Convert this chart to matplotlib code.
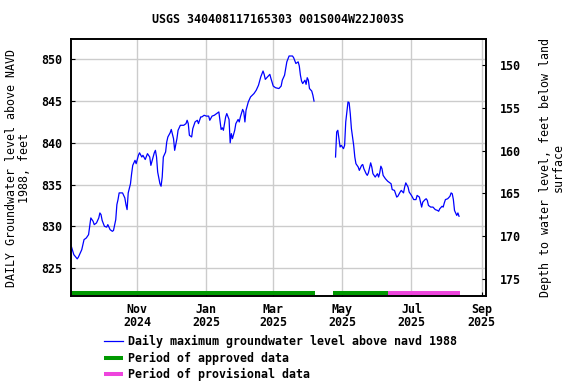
import datetime as dt
import numpy as np
import matplotlib
matplotlib.use("Agg")
import matplotlib.pyplot as plt
import matplotlib.dates as mdates

plt.rcParams['font.family'] = ['DejaVu Sans Mono']
plt.rcParams['font.weight'] = 'bold'
plt.rcParams['font.size'] = 8.4

base = dt.datetime(2024, 9, 1)

# days after 2024-09-01, daily max level (ft above NAVD 1988)
days_a = [3, 5, 8, 9, 12, 14, 16, 18, 20, 22, 23, 25, 27, 28, 29, 30, 32, 34, 35, 37,
          39, 40, 42, 43, 44, 45, 48, 50, 51, 52, 53, 55, 56, 57, 59, 60, 62, 63, 65, 66,
          68, 70, 72, 73, 76, 77, 78, 79, 81, 82, 83, 84, 86, 87, 88, 90, 91, 93, 94, 96,
          97, 99, 102, 104, 105, 106, 107, 109, 110, 112, 114, 115, 117, 118, 120, 122, 124, 125, 127, 129,
          131, 133, 135, 136, 137, 139, 140, 142, 143, 144, 145, 147, 148, 150, 151, 152, 154, 155, 156, 157,
          159, 161, 164, 166, 168, 170, 172, 173, 174, 176, 178, 179, 181, 183, 186, 188, 189, 191, 193, 195,
          198, 199, 201, 203, 204, 205, 206, 207, 209, 210, 211, 212, 213, 215, 216, 217]
level_a = [827.5, 826.6, 826.1, 826.3, 827.2, 828.4, 828.6, 829.0, 831.0, 830.6, 830.2, 830.4, 831.0, 831.6, 831.4, 830.7, 830.0, 829.9, 830.2, 829.6,
           829.4, 829.5, 830.8, 832.6, 833.2, 834.0, 834.0, 833.4, 832.6, 832.0, 834.0, 835.1, 836.3, 837.3, 837.9, 837.5, 838.5, 838.8, 838.3, 838.5,
           838.0, 838.7, 838.3, 837.3, 838.8, 839.1, 838.3, 836.5, 835.1, 834.8, 835.9, 838.3, 838.9, 840.1, 840.7, 841.2, 841.6, 840.5, 839.1, 840.5,
           841.5, 842.1, 842.1, 842.3, 842.7, 842.3, 840.9, 840.7, 841.7, 842.5, 842.7, 842.3, 843.1, 843.1, 843.3, 843.2, 843.2, 842.7, 843.2, 843.3,
           843.5, 843.7, 841.6, 841.8, 841.5, 843.1, 843.5, 842.8, 840.0, 841.1, 840.5, 841.5, 842.3, 842.8, 842.5, 843.1, 844.0, 843.7, 842.5, 843.9,
           844.9, 845.5, 845.9, 846.3, 846.9, 847.9, 848.6, 848.2, 847.6, 847.9, 848.2, 847.7, 846.8, 846.6, 846.5, 846.8, 847.5, 848.1, 849.7, 850.4,
           850.4, 850.2, 849.5, 849.7, 849.2, 848.1, 847.4, 847.1, 847.5, 847.0, 847.8, 847.5, 846.5, 846.2, 845.7, 845.0]

days_b = [236, 237, 238, 239, 240, 241, 242, 243, 244, 245, 246, 247, 248, 249, 250, 252, 253, 254, 256, 257,
          259, 260, 261, 263, 264, 265, 267, 268, 269, 271, 273, 274, 275, 276, 277, 278, 280, 282, 284, 285,
          286, 288, 290, 291, 293, 294, 296, 297, 298, 300, 301, 303, 305, 307, 308, 310, 311, 312, 313, 315,
          316, 317, 318, 320, 322, 324, 326, 327, 328, 330, 331, 332, 333, 335, 337, 338, 339, 340, 341, 343,
          344, 345]
level_b = [838.3, 841.3, 841.5, 840.5, 839.5, 839.7, 839.5, 839.3, 839.7, 842.5, 843.7, 844.9, 844.8, 843.5, 841.7, 839.7, 838.3, 837.5, 837.1, 836.7,
           837.3, 837.4, 836.9, 836.3, 836.1, 836.4, 837.6, 837.1, 836.3, 835.9, 836.3, 835.9, 836.4, 837.2, 836.9, 836.1, 835.7, 835.4, 835.2, 835.1,
           834.4, 834.3, 833.5, 833.6, 834.1, 834.3, 834.0, 834.7, 835.2, 834.7, 834.1, 833.7, 833.2, 833.2, 833.7, 833.5, 832.9, 832.3, 832.9, 833.2,
           833.3, 833.1, 832.5, 832.3, 832.3, 832.0, 831.9, 831.8, 832.1, 832.4, 832.3, 832.8, 833.2, 833.3, 833.6, 834.0, 833.9, 833.2, 831.9, 831.3,
           831.6, 831.2]

# data-quality periods (start day, end day)
approved = [(2, 218), (234, 282)]
provisional = [(282, 346)]

title = "USGS 340408117165303 001S004W22J003S"
month_ticks = [dt.datetime(2024, 11, 1), dt.datetime(2025, 1, 1), dt.datetime(2025, 3, 1),
               dt.datetime(2025, 5, 1), dt.datetime(2025, 7, 1), dt.datetime(2025, 9, 1)]
month_labels = ["Nov\n2024", "Jan\n2025", "Mar\n2025", "May\n2025", "Jul\n2025", "Sep\n2025"]


def to_dates(days):
    return [base + dt.timedelta(days=d) for d in days]


fig = plt.figure(figsize=(5.76, 3.84), dpi=100)
ax = fig.add_axes([71 / 576, 88 / 384, 415 / 576, 256.7 / 384])

ax.plot(to_dates(days_a), level_a, color='#0000ff', lw=0.9,
        label='Daily maximum groundwater level above navd 1988')
ax.plot(to_dates(days_b), level_b, color='#0000ff', lw=0.9)

bar_y = 822.05
for i, (s, e) in enumerate(approved):
    ax.plot(to_dates([s, e]), [bar_y, bar_y], color='#009900', lw=2.9,
            solid_capstyle='butt', label='Period of approved data' if i == 0 else None)
for i, (s, e) in enumerate(provisional):
    ax.plot(to_dates([s, e]), [bar_y, bar_y], color='#ee44dd', lw=2.9,
            solid_capstyle='butt', label='Period of provisional data' if i == 0 else None)

ax.set_xlim(base + dt.timedelta(days=2.5), base + dt.timedelta(days=368.8))
ax.set_ylim(821.65, 852.4)
ax.set_yticks([825, 830, 835, 840, 845, 850])
ax.set_xticks(month_ticks)
ax.set_xticklabels(month_labels, linespacing=1.05)
ax.grid(True, color='#cccccc', lw=1)
ax.set_axisbelow(True)
ax.tick_params(axis='both', length=3, direction='in', pad=6)
ax.tick_params(axis='x', pad=5)
for sp in ax.spines.values():
    sp.set_linewidth(1.2)

ax.set_ylabel("DAILY Groundwater level above NAVD\n1988, feet", linespacing=1.0, labelpad=8)
ax.set_title(title, pad=12, fontsize=8.4, fontweight='bold')

ax2 = ax.twinx()
ax2.set_ylim(177.0, 147.0)
ax2.set_yticks([150, 155, 160, 165, 170, 175])
ax2.tick_params(axis='y', length=3, direction='in', pad=10)
ax2.set_ylabel("Depth to water level, feet below land\nsurface", linespacing=1.0, labelpad=13)
for sp in ax2.spines.values():
    sp.set_linewidth(1.2)

handles, labels = ax.get_legend_handles_labels()
fig.legend(handles, labels, loc='upper left', bbox_to_anchor=(104 / 576, 1 - 335 / 384),
           frameon=False, borderpad=0, borderaxespad=0, handlelength=1.6,
           handletextpad=0.45, labelspacing=0.3)

fig.savefig("out.png", dpi=100)
